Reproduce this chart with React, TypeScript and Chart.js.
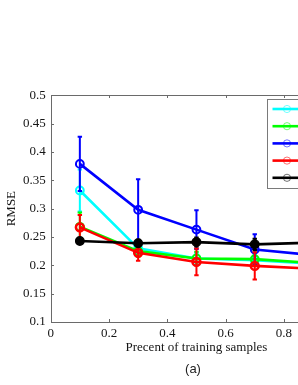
import { useEffect, useRef } from 'react';
import { Chart, registerables } from 'chart.js';

Chart.register(...registerables);

// ---- data ----
const xValues = [0.1, 0.3, 0.5, 0.7, 0.9];
const seriesLabels = ['Series 1', 'Series 2', 'Series 3', 'Series 4', 'Series 5'];
const seriesColors = ['#00FFFF', '#00FF00', '#0000FF', '#FF0000', '#000000'];

const cyanValues = [0.332, 0.23, 0.212, 0.209, 0.203];
const cyanErrors = [0.037, 0.01, 0.01, 0.01, 0.01];
const greenValues = [0.268, 0.225, 0.212, 0.211, 0.204];
const greenErrors = [0.025, 0.01, 0.012, 0.012, 0.01];
const blueValues = [0.379, 0.298, 0.263, 0.228, 0.218];
const blueErrors = [0.048, 0.054, 0.034, 0.027, 0.02];
const redValues = [0.267, 0.222, 0.206, 0.199, 0.194];
const redErrors = [0.022, 0.014, 0.0235, 0.024, 0.02];
const blackValues = [0.243, 0.239, 0.241, 0.237, 0.24];
const blackErrors = [0.004, 0.006, 0.008, 0.01, 0.008];

const xTickValues = [0, 0.2, 0.4, 0.6, 0.8, 1];
const yTickValues = [0.1, 0.15, 0.2, 0.25, 0.3, 0.35, 0.4, 0.45, 0.5];
const xAxisTitle = 'Precent of training samples';
const yAxisTitle = 'RMSE';
const caption = '(a)';

const SERIF = '"Liberation Serif", "Times New Roman", serif';
const TEXT = '#151515';
const AXIS = '#6a6a6a';

const fmt = (v: any) => String(+Number(v).toFixed(2));

const errorBarPlugin = {
  id: 'errorBars',
  afterDatasetDraw(chart: any, args: any) {
    const ds = chart.data.datasets[args.index];
    const errs: number[] | undefined = ds.errors;
    if (!errs) return;
    const ctx = chart.ctx;
    const ys = chart.scales.y;
    const xs = chart.scales.x;
    ctx.save();
    ctx.strokeStyle = ds.borderColor;
    ctx.lineWidth = 2;
    ds.data.forEach((p: any, i: number) => {
      const x = xs.getPixelForValue(p.x);
      const yTop = ys.getPixelForValue(p.y + errs[i]);
      const yBot = ys.getPixelForValue(p.y - errs[i]);
      ctx.beginPath();
      ctx.moveTo(x, yTop);
      ctx.lineTo(x, yBot);
      ctx.moveTo(x - 2.2, yTop);
      ctx.lineTo(x + 2.2, yTop);
      ctx.moveTo(x - 2.2, yBot);
      ctx.lineTo(x + 2.2, yBot);
      ctx.stroke();
    });
    ctx.restore();
  },
};

const framePlugin = {
  id: 'frame',
  beforeDatasetsDraw(chart: any) {
    const { ctx, chartArea } = chart;
    const { left, right, top, bottom } = chartArea;
    const xs = chart.scales.x;
    const ys = chart.scales.y;
    ctx.save();
    ctx.strokeStyle = AXIS;
    ctx.lineWidth = 1;
    ctx.strokeRect(Math.round(left) + 0.5, Math.round(top) + 0.5, Math.round(right - left), Math.round(bottom - top));
    ctx.beginPath();
    xTickValues.forEach((v) => {
      const x = Math.round(xs.getPixelForValue(v)) + 0.5;
      ctx.moveTo(x, Math.round(bottom));
      ctx.lineTo(x, Math.round(bottom) - 3);
      ctx.moveTo(x, Math.round(top));
      ctx.lineTo(x, Math.round(top) + 3);
    });
    yTickValues.forEach((v) => {
      const y = Math.round(ys.getPixelForValue(v)) + 0.5;
      ctx.moveTo(Math.round(left), y);
      ctx.lineTo(Math.round(left) + 3, y);
      ctx.moveTo(Math.round(right), y);
      ctx.lineTo(Math.round(right) - 3, y);
    });
    ctx.stroke();
    ctx.restore();
  },
};

const legendPlugin = {
  id: 'boxLegend',
  afterDatasetsDraw(chart: any) {
    const { ctx, chartArea } = chart;
    const left = Math.round(chartArea.right - 75) + 0.5;
    const top = Math.round(chartArea.top + 4) + 0.5;
    const w = 71;
    const rowH = 17.2;
    const h = 89;
    ctx.save();
    ctx.fillStyle = '#ffffff';
    ctx.fillRect(left, top, w, h);
    ctx.strokeStyle = '#7a7a7a';
    ctx.lineWidth = 1;
    ctx.strokeRect(left, top, w, h);
    seriesLabels.forEach((label, i) => {
      const y = top + 9.5 + i * rowH;
      const c = seriesColors[i];
      ctx.strokeStyle = c;
      ctx.lineWidth = 2.6;
      ctx.beginPath();
      ctx.moveTo(left + 5, y);
      ctx.lineTo(left + 33, y);
      ctx.stroke();
      ctx.globalAlpha = 0.55;
      ctx.lineWidth = 1;
      ctx.beginPath();
      ctx.arc(left + 19.5, y, 3.6, 0, Math.PI * 2);
      ctx.stroke();
      ctx.globalAlpha = 1;
      ctx.fillStyle = TEXT;
      ctx.font = '13px ' + SERIF;
      ctx.textBaseline = 'middle';
      ctx.fillText(label, left + 38, y);
    });
    ctx.restore();
  },
};

function makeDataset(label: string, color: string, values: number[], errors: number[], order: number, filled: boolean, bw: number, r: number) {
  return {
    label,
    data: xValues.map((x, i) => ({ x, y: values[i] })),
    errors,
    borderColor: color,
    backgroundColor: color,
    borderWidth: 2.6,
    pointRadius: r,
    pointBorderWidth: bw,
    pointBorderColor: color,
    pointBackgroundColor: filled ? color : 'rgba(0,0,0,0)',
    tension: 0,
    order,
  };
}

export default function App() {
  const ref = useRef<HTMLCanvasElement>(null);

  useEffect(() => {
    if (!ref.current) return;
    const chart = new Chart(ref.current, {
      type: 'line',
      data: {
        datasets: [
          makeDataset(seriesLabels[0], seriesColors[0], cyanValues, cyanErrors, 4, false, 2, 3.9),
          makeDataset(seriesLabels[1], seriesColors[1], greenValues, greenErrors, 3, false, 2, 3.9),
          makeDataset(seriesLabels[2], seriesColors[2], blueValues, blueErrors, 2, false, 2, 3.9),
          makeDataset(seriesLabels[3], seriesColors[3], redValues, redErrors, 1, false, 2.6, 3.9),
          makeDataset(seriesLabels[4], seriesColors[4], blackValues, blackErrors, 0, true, 1.5, 4.2),
        ] as any,
      },
      options: {
        responsive: false,
        animation: false,
        devicePixelRatio: 1,
        layout: { padding: { left: 0, top: 95.3, right: 57.8, bottom: 0 } },
        plugins: { legend: { display: false }, tooltip: { enabled: false } },
        scales: {
          x: {
            type: 'linear',
            min: 0,
            max: 1,
            grid: { display: false, drawTicks: false },
            border: { display: false },
            afterBuildTicks: (s: any) => {
              s.ticks = xTickValues.map((v) => ({ value: v }));
            },
            afterFit: (s: any) => {
              s.height = 63;
            },
            ticks: {
              font: { family: SERIF, size: 13 },
              color: TEXT,
              padding: 4,
              autoSkip: false,
              maxRotation: 0,
              callback: (v: any) => fmt(v),
            },
            title: {
              display: true,
              text: xAxisTitle,
              font: { family: SERIF, size: 13 },
              color: TEXT,
              padding: { top: 0, bottom: 30 },
            },
          },
          y: {
            type: 'linear',
            min: 0.1,
            max: 0.5,
            grid: { display: false, drawTicks: false },
            border: { display: false },
            afterBuildTicks: (s: any) => {
              s.ticks = yTickValues.map((v) => ({ value: v }));
            },
            afterFit: (s: any) => {
              s.width = 50.7;
            },
            ticks: {
              font: { family: SERIF, size: 13 },
              color: TEXT,
              padding: 5,
              autoSkip: false,
              callback: (v: any) => fmt(v),
            },
            title: {
              display: true,
              text: yAxisTitle,
              font: { family: SERIF, size: 13 },
              color: TEXT,
              padding: { top: 4, bottom: 0 },
            },
          },
        },
      } as any,
      plugins: [framePlugin, errorBarPlugin, legendPlugin],
    });
    return () => chart.destroy();
  }, []);

  return (
    <div style={{ position: 'fixed', left: 0, top: 0, width: 298, height: 385, overflow: 'hidden', background: '#fff' }}>
      <canvas ref={ref} width={400} height={385} style={{ display: 'block' }} />
      <div
        style={{
          position: 'absolute',
          left: 0,
          width: 386,
          top: 361,
          lineHeight: '16px',
          textAlign: 'center',
          fontFamily: '"Liberation Sans", Arial, sans-serif',
          fontSize: 13,
          color: '#222',
        }}
      >
        {caption}
      </div>
    </div>
  );
}
